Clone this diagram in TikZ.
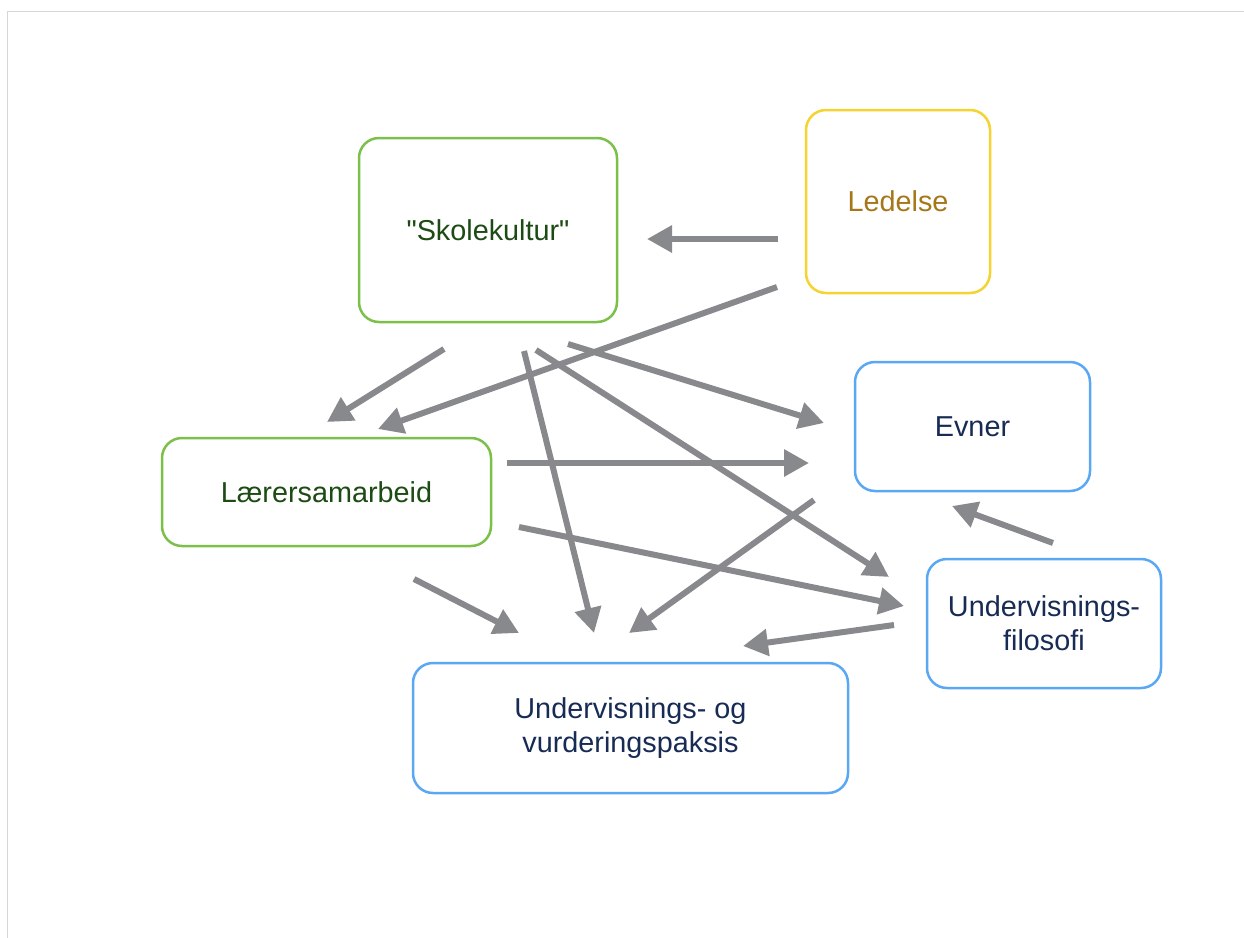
\documentclass[tikz,border=0pt]{standalone}
\usepackage{fontspec}
\setmainfont{Liberation Sans}[Ligatures=TeXOff]
\usetikzlibrary{arrows.meta}
\definecolor{boxgreen}{HTML}{7CC04B}
\definecolor{boxyellow}{HTML}{F5D330}
\definecolor{boxblue}{HTML}{5AA8F3}
\definecolor{txtgreen}{HTML}{1D4B14}
\definecolor{txtbrown}{HTML}{A67718}
\definecolor{txtnavy}{HTML}{172B55}
\definecolor{arrowgray}{HTML}{87898C}
\definecolor{framegray}{HTML}{D6D6D6}
\begin{document}
\begin{tikzpicture}[x=0.5pt,y=-0.5pt,
  box/.style={draw, line width=1.25pt, rounded corners=10pt, fill=white,
    align=center, inner sep=0pt, font=\fontsize{14.4}{17}\selectfont},
  greenbox/.style={box, draw=boxgreen, text=txtgreen},
  yellowbox/.style={box, draw=boxyellow, text=txtbrown},
  bluebox/.style={box, draw=boxblue, text=txtnavy},
  link/.style={draw=arrowgray, line width=3pt,
    -{Triangle[length=12.5pt,width=13pt]}, arrowgray}]
\useasboundingbox (0,0) rectangle (1244,938);
% page frame
\draw[framegray, line width=0.6pt] (7.5,938) -- (7.5,11.5) -- (1244,11.5);

% boxes
\node[greenbox, minimum width=129pt, minimum height=92pt] (skole) at (488,230) {"Skolekultur"};
\node[yellowbox, minimum width=92pt, minimum height=91.5pt] (ledelse) at (898,201.5) {Ledelse};
\node[bluebox, minimum width=117.5pt, minimum height=64.5pt] (evner) at (972.5,426.5) {Evner};
\node[greenbox, minimum width=164.5pt, minimum height=54pt] (laerer) at (326.5,492) {Lærersamarbeid};
\node[bluebox, minimum width=117pt, minimum height=64.5pt] (filosofi) at (1044,623.5) {Undervisnings-\\filosofi};
\node[bluebox, minimum width=217.5pt, minimum height=65pt] (praksis) at (630.5,728) {Undervisnings- og\\vurderingspaksis};

% arrow end points
\coordinate (l1s) at (778,239);  \coordinate (l1e) at (647,239);
\coordinate (l2s) at (777,287);  \coordinate (l2e) at (378,429);
\coordinate (s1s) at (444,349);  \coordinate (s1e) at (327,422);
\coordinate (s2s) at (524,351);  \coordinate (s2e) at (594,633);
\coordinate (s3s) at (536,350);  \coordinate (s3e) at (889,577);
\coordinate (s4s) at (568,344);  \coordinate (s4e) at (824,423);
\coordinate (a1s) at (507,463);  \coordinate (a1e) at (809,463);
\coordinate (a2s) at (519,527);  \coordinate (a2e) at (904,606);
\coordinate (a3s) at (414,579);  \coordinate (a3e) at (519,633);
\coordinate (e1s) at (814,500);  \coordinate (e1e) at (629,633);
\coordinate (f1s) at (1053,543); \coordinate (f1e) at (952,506);
\coordinate (f2s) at (894,625);  \coordinate (f2e) at (743,646);

% influences
\draw[link] (l1s) -- (l1e);
\draw[link] (l2s) -- (l2e);
\draw[link] (s1s) -- (s1e);
\draw[link] (s2s) -- (s2e);
\draw[link] (s3s) -- (s3e);
\draw[link] (s4s) -- (s4e);
\draw[link] (a1s) -- (a1e);
\draw[link] (a2s) -- (a2e);
\draw[link] (a3s) -- (a3e);
\draw[link] (e1s) -- (e1e);
\draw[link] (f1s) -- (f1e);
\draw[link] (f2s) -- (f2e);
\end{tikzpicture}
\end{document}
